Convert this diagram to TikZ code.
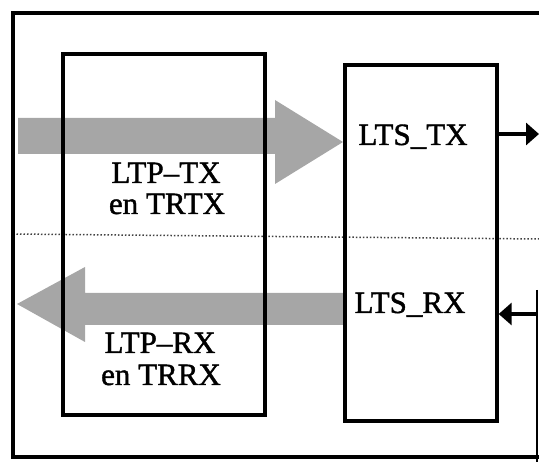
\documentclass[tikz,border=0pt]{standalone}
\usepackage{fontspec}
\setmainfont{Liberation Serif}[BoldFont={Liberation Serif},BoldFeatures={FakeBold=1.3}]
\usetikzlibrary{arrows.meta}

\begin{document}
\begin{tikzpicture}
[
	x=1pt,y=-1pt,
	box/.style={draw,line width=3.4pt,inner sep=0pt},
	frameline/.style={line width=3.4pt},
	band/.style={fill=black!35,draw=none},
	lbl/.style={inner sep=0pt,anchor=base,font=\fontsize{31}{31}\selectfont\bfseries},
	sig/.style={line width=3.2pt,-{Triangle[length=13pt,width=22pt]}}
]
	\useasboundingbox (0,0) rectangle (539,462);

	% shaded bands
	\path[band] (18,118) -- (275,118) -- (275,100) -- (343,142)
		-- (275,184) -- (275,154) -- (18,154) -- cycle;
	\path[band] (343,293) -- (85,293) -- (85,267) -- (17,304)
		-- (85,342) -- (85,325) -- (343,325) -- cycle;

	% dotted split
	\draw[dotted,line width=1.5pt,black!75] (13,234) -- (539,239);

	% outer frame
	\draw[frameline] (539,13) -- (13,13) -- (13,457) -- (539,457);

	% boxes
	\node[box,minimum width=202pt,minimum height=361pt] (ltp) at (164,234.5) {};
	\node[box,minimum width=152pt,minimum height=356pt] (lts) at (421,243) {};

	% labels
	\node[lbl] (ltptx) at (166,183) {LTP–TX};
	\node[lbl] (trtx) at (167,214) {en TRTX};
	\node[lbl] (ltprx) at (160,353) {LTP–RX};
	\node[lbl] (trrx) at (161,385) {en TRRX};
	\node[lbl] (ltstx) at (413,145) {LTS\_TX};
	\node[lbl] (ltsrx) at (410,313) {LTS\_RX};

	% external links
	\coordinate (txout) at (539,134);
	\coordinate (rxin) at (537,314);
	\draw[sig] (lts.east |- txout) -- (txout);
	\draw[sig] (rxin) -- (lts.east |- rxin);
	\draw[line width=1.4pt] (537,290) -- (537,462);

\end{tikzpicture}
\end{document}
